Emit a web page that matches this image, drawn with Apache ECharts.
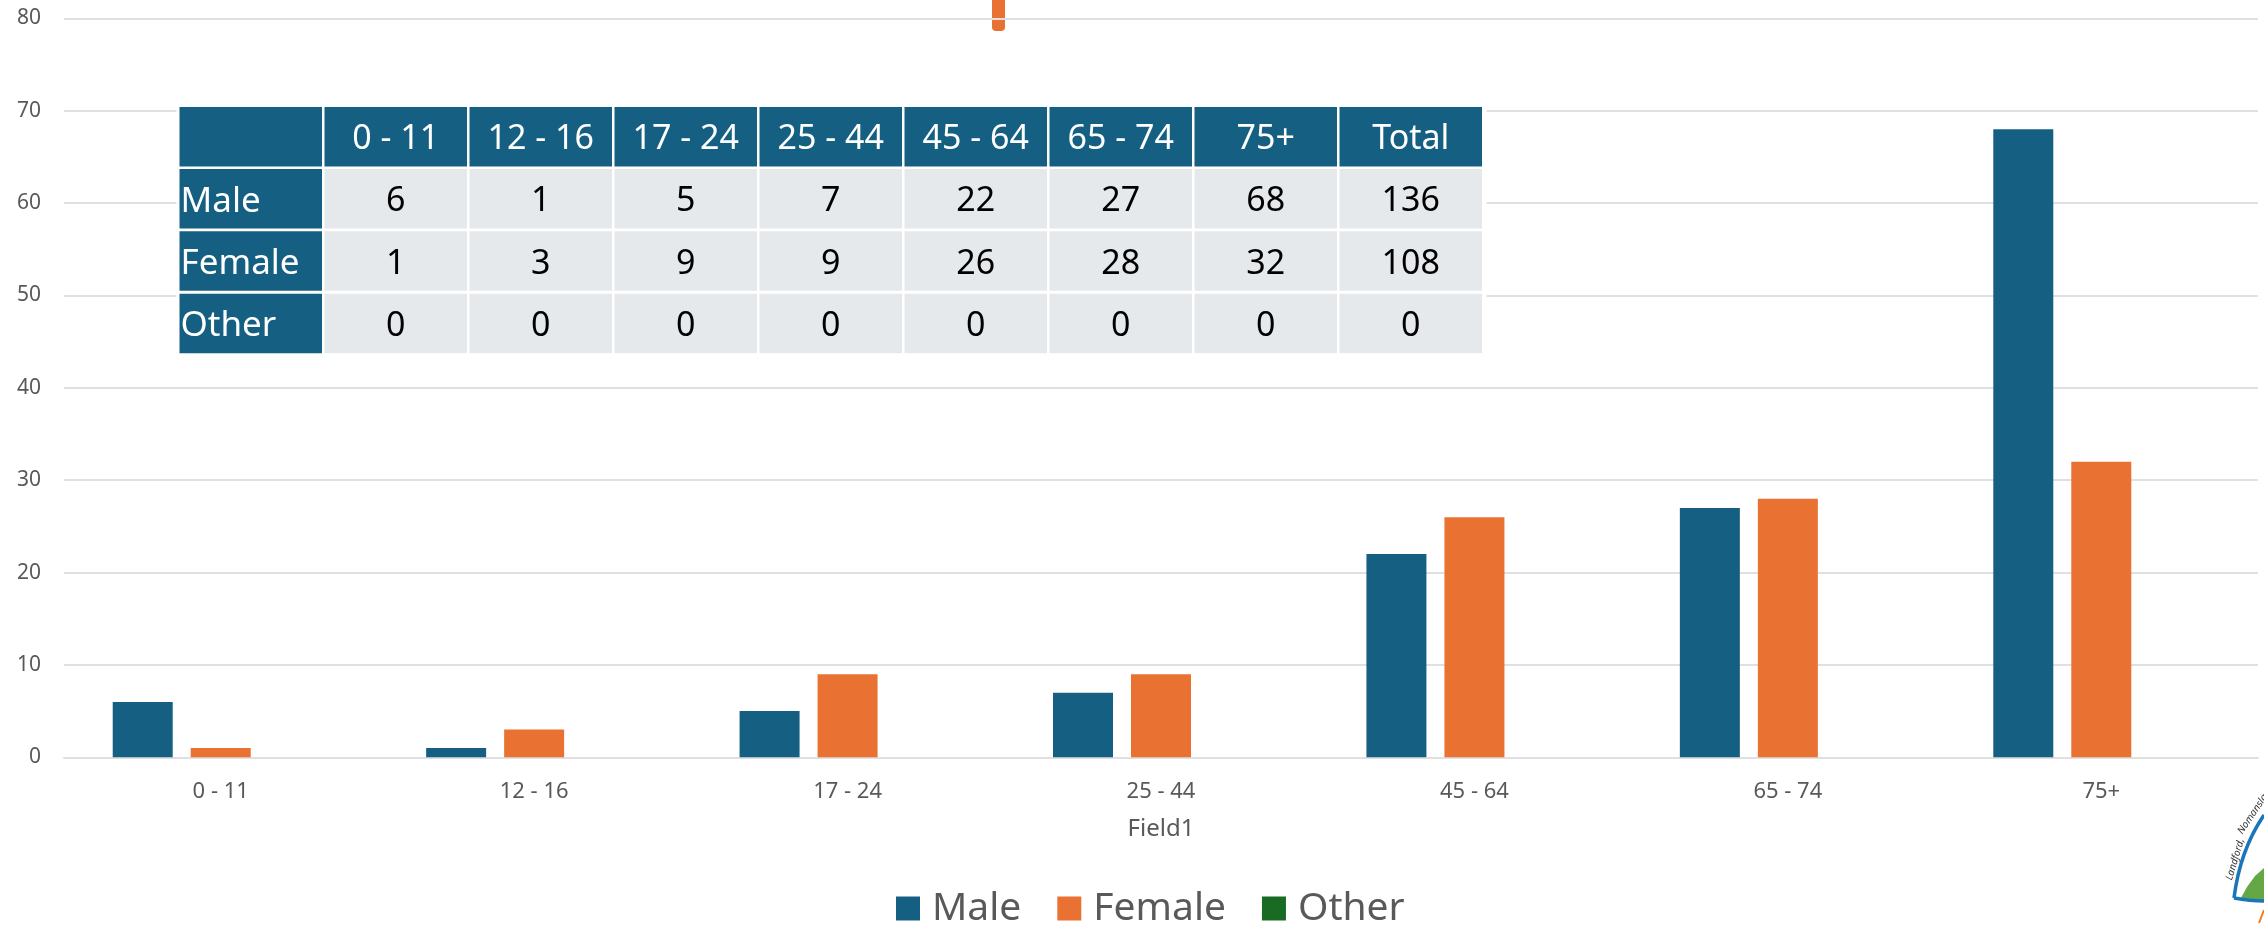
<!DOCTYPE html>
<html>
<head>
<meta charset="utf-8">
<style>
  html, body { margin: 0; padding: 0; background: #fff; }
  #main { width: 2264px; height: 925px; }
</style>
</head>
<body>
<div id="main"></div>
<script src="https://cdn.jsdelivr.net/npm/echarts@6/dist/echarts.min.js"></script>
<script>
const categories = ["0 - 11", "12 - 16", "17 - 24", "25 - 44", "45 - 64", "65 - 74", "75+"];
const male = [6, 1, 5, 7, 22, 27, 68];
const female = [1, 3, 9, 9, 26, 28, 32];
const other = [0, 0, 0, 0, 0, 0, 0];
const tableHead = ["", "0 - 11", "12 - 16", "17 - 24", "25 - 44", "45 - 64", "65 - 74", "75+", "Total"];
const tableRows = [
  ["Male", 6, 1, 5, 7, 22, 27, 68, 136],
  ["Female", 1, 3, 9, 9, 26, 28, 32, 108],
  ["Other", 0, 0, 0, 0, 0, 0, 0, 0]
];

const BLUE = "#156082";
const ORANGE = "#E97132";
const GREEN = "#196B24";
const CELL = "#E6E9EC";
const GREY = "#595959";
const FONT = '"Noto Sans", sans-serif';

// table is drawn over the plot, like the pasted one in the original
const buildTable = () => {
  const left = 179.5, top = 107, colW = 145, gap = 2.5;
  const rowTops = [107, 169, 231.3, 293.7];
  const rowH = 59.5;
  const els = [{
    type: "rect", z: 10,
    shape: { x: left - 3, y: top - 3, width: colW * 9 + 5, height: 252 },
    style: { fill: "#fff" }
  }];
  [tableHead].concat(tableRows).forEach((row, r) => {
    row.forEach((val, c) => {
      const x = left + c * colW;
      const isHead = r === 0 || c === 0;
      els.push({
        type: "rect", z: 11,
        shape: { x: x, y: rowTops[r], width: colW - gap, height: rowH },
        style: { fill: isHead ? BLUE : CELL }
      });
      els.push({
        type: "text", z: 12,
        x: c === 0 ? x + 1 : x + (colW - gap) / 2,
        y: rowTops[r] + rowH / 2 + 3,
        style: {
          text: String(val),
          font: (c === 0 ? 35 : 34) + "px " + FONT,
          fill: isHead ? "#fff" : "#000",
          align: c === 0 ? "left" : "center",
          verticalAlign: "middle"
        }
      });
    });
  });
  return els;
};

// corner of a logo, cut off by the right edge
const buildLogo = () => [
  {
    type: "polygon", z: 5, silent: true,
    shape: { points: [[2241, 898], [2247, 887], [2255, 876], [2264, 868], [2264, 902]] },
    style: { fill: "#63A844" }
  },
  {
    type: "bezierCurve", z: 6, silent: true,
    shape: { x1: 2264, y1: 815, cpx1: 2240, cpy1: 850, x2: 2234, y2: 898 },
    style: { fill: "none", stroke: "#1B75BB", lineWidth: 3.5 }
  },
  {
    type: "bezierCurve", z: 6, silent: true,
    shape: { x1: 2234, y1: 898, cpx1: 2250, cpy1: 901, x2: 2264, y2: 901 },
    style: { fill: "none", stroke: "#1B75BB", lineWidth: 3.5 }
  },
  {
    type: "line", z: 6, silent: true,
    shape: { x1: 2259, y1: 923, x2: 2264, y2: 910 },
    style: { stroke: "#F47B20", lineWidth: 2 }
  },
  {
    type: "text", z: 6, silent: true, x: 2229, y: 880, rotation: 1.28,
    style: { text: "Landford,", font: "italic 10px " + FONT, fill: "#333", align: "left", verticalAlign: "middle" }
  },
  {
    type: "text", z: 6, silent: true, x: 2240, y: 833, rotation: 0.98,
    style: { text: "Nomansland", font: "italic 10px " + FONT, fill: "#333", align: "left", verticalAlign: "middle" }
  }
];

const chart = echarts.init(document.getElementById("main"));
const barStyle = { borderWidth: 0 };
const option = {
  backgroundColor: "#fff",
  animation: false,
  textStyle: { fontFamily: FONT },
  color: [BLUE, ORANGE, GREEN],
  grid: { left: 64, right: 6, top: 18.3, bottom: 167.7, containLabel: false },
  xAxis: {
    type: "category",
    data: categories,
    name: "Field1",
    nameLocation: "middle",
    nameGap: 60,
    nameTextStyle: { color: GREY, fontSize: 24, fontFamily: FONT },
    axisTick: { show: false },
    axisLine: { lineStyle: { color: "#E0E0E0", width: 2 } },
    axisLabel: { color: GREY, fontSize: 22, margin: 23, fontFamily: FONT }
  },
  yAxis: {
    type: "value",
    min: 0,
    max: 80,
    interval: 10,
    axisLine: { show: false },
    axisTick: { show: false },
    splitLine: { lineStyle: { color: "#E0E0E0", width: 2 } },
    axisLabel: { color: GREY, fontSize: 21, margin: 23, fontFamily: FONT }
  },
  legend: {
    left: 896,
    top: 889,
    padding: 0,
    itemWidth: 24,
    itemHeight: 24,
    itemGap: 36,
    icon: "rect",
    data: ["Male", "Female", "Other"],
    textStyle: { color: GREY, fontSize: 39, fontFamily: FONT, padding: [0, 0, 0, 7] }
  },
  series: [
    { name: "Male", type: "bar", barWidth: 60, barGap: "30%", data: male, itemStyle: barStyle },
    { name: "Female", type: "bar", barWidth: 60, barGap: "30%", data: female, itemStyle: barStyle },
    { name: "Other", type: "bar", barWidth: 60, barGap: "30%", data: other, itemStyle: barStyle }
  ],
  graphic: {
    elements: [
      // orange stub cut off by the top edge
      {
        type: "rect", z: -1, silent: true,
        shape: { x: 992, y: -10, width: 13, height: 41, r: 4 },
        style: { fill: ORANGE }
      }
    ].concat(buildTable(), buildLogo())
  }
};
chart.setOption(option);
window.onresize = function() {
  chart.resize();
};
</script>
</body>
</html>
